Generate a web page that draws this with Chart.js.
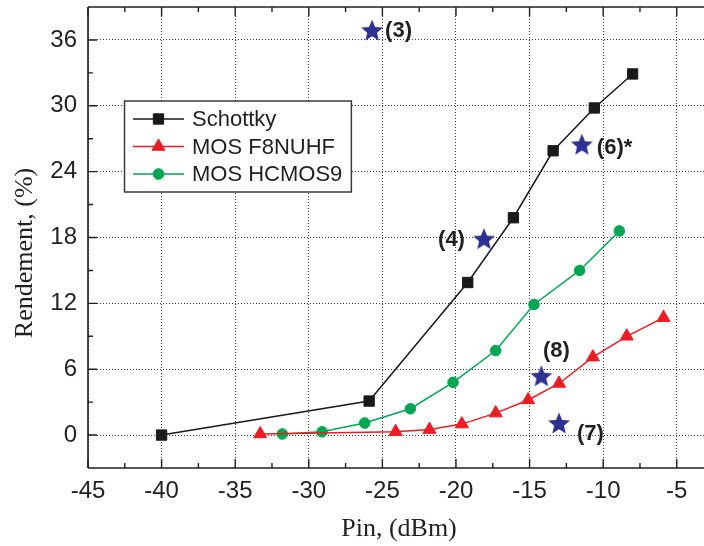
<!DOCTYPE html>
<html><head><meta charset="utf-8">
<script src="https://cdn.jsdelivr.net/npm/chart.js@4/dist/chart.umd.min.js"></script>
<style>html,body{margin:0;padding:0;background:#fff}#wrap{width:704px;height:546px;position:relative}</style>
</head><body><div id="wrap"><canvas id="c" width="704" height="546"></canvas></div>
<script>
// ---- data ----
const xTicks = [-45, -40, -35, -30, -25, -20, -15, -10, -5];
const xMinorTicks = [-42.5, -37.5, -32.5, -27.5, -22.5, -17.5, -12.5, -7.5];
const yTicks = [0, 6, 12, 18, 24, 30, 36];
const yMinorTicks = [3, 9, 15, 21, 27, 33];
const seriesNames = ['Schottky', 'MOS F8NUHF', 'MOS HCMOS9'];
const schottkyX = [-40, -25.9, -19.2, -16.1, -13.4, -10.6, -8.0];
const schottkyY = [0, 3.1, 13.9, 19.8, 25.9, 29.8, 32.9];
const f8nuhfX = [-33.3, -24.1, -21.8, -19.6, -17.3, -15.1, -13.0, -10.7, -8.4, -5.9];
const f8nuhfY = [0.1, 0.3, 0.5, 1.0, 2.0, 3.2, 4.7, 7.1, 9.0, 10.7];
const hcmos9X = [-31.8, -29.1, -26.2, -23.1, -20.2, -17.3, -14.7, -11.6, -8.9];
const hcmos9Y = [0.1, 0.3, 1.1, 2.4, 4.8, 7.7, 11.9, 15.0, 18.6];
const refX = [-25.7, -18.1, -11.45, -14.2, -13.0];
const refY = [36.9, 17.9, 26.5, 5.4, 1.1];
const refLabels = ['(3)', '(4)', '(6)*', '(8)', '(7)'];
const xTitle = 'Pin, (dBm)';
const yTitle = 'Rendement, (%)';

// ---- styling ----
const refLabelStyle = [
  {dx: 13, dy: 1, align: 'left'},
  {dx: -19, dy: 1, align: 'right'},
  {dx: 15, dy: 4, align: 'left'},
  {dx: 15, dy: -25, align: 'center'},
  {dx: 18, dy: 11, align: 'left'}
];
const INK = '#231f20';
const SANS = '"Liberation Sans", Arial, Helvetica, sans-serif';
const SERIF = '"Liberation Serif", "Times New Roman", serif';

function makeStar(size, color) {
  const c = document.createElement('canvas');
  c.width = c.height = size;
  const g = c.getContext('2d');
  const R = size / 2 - 0.5, r = R * 0.45;
  const cx = size / 2, cy = size / 2 + R * 0.095;
  g.beginPath();
  for (let i = 0; i < 10; i++) {
    const a = -Math.PI / 2 + i * Math.PI / 5;
    const rad = i % 2 ? r : R;
    g.lineTo(cx + rad * Math.cos(a), cy + rad * Math.sin(a));
  }
  g.closePath();
  g.fillStyle = color;
  g.fill();
  return c;
}
const starImg = makeStar(24, '#2e3192');
const pts = (xs, ys) => xs.map((x, i) => ({x: x, y: ys[i]}));
const noPad = () => ({left: 0, right: 0, top: 0, bottom: 0});

function drawFrame(chart) {
  const {ctx, chartArea: a, scales: {x, y}} = chart;
  ctx.save();
  ctx.strokeStyle = INK;
  ctx.lineWidth = 1.6;
  ctx.beginPath();
  ctx.moveTo(a.left, a.top); ctx.lineTo(a.right + 2, a.top);
  ctx.moveTo(a.left, a.top); ctx.lineTo(a.left, a.bottom);
  ctx.moveTo(a.left, a.bottom); ctx.lineTo(a.right + 2, a.bottom);
  ctx.stroke();
  ctx.lineWidth = 1.4;
  ctx.beginPath();
  const tick = (v, len, horiz) => {
    if (horiz) {
      const px = x.getPixelForValue(v);
      ctx.moveTo(px, a.bottom); ctx.lineTo(px, a.bottom - len);
      ctx.moveTo(px, a.top); ctx.lineTo(px, a.top + len);
    } else {
      const py = y.getPixelForValue(v);
      ctx.moveTo(a.left, py); ctx.lineTo(a.left + len, py);
    }
  };
  xTicks.forEach(v => tick(v, 9, true));
  xMinorTicks.forEach(v => tick(v, 5, true));
  yTicks.forEach(v => tick(v, 9, false));
  yMinorTicks.forEach(v => tick(v, 5, false));
  ctx.stroke();
  ctx.restore();
}

function drawOverlay(chart) {
  const {ctx, scales: {x, y}} = chart;
  ctx.save();
  ctx.font = 'bold 22px ' + SANS;
  ctx.fillStyle = INK;
  ctx.textBaseline = 'middle';
  refLabels.forEach((t, i) => {
    const s = refLabelStyle[i];
    ctx.textAlign = s.align;
    ctx.fillText(t, x.getPixelForValue(refX[i]) + s.dx, y.getPixelForValue(refY[i]) + s.dy);
  });
  // legend
  ctx.font = '22px ' + SANS;
  const bx = 124.5, by = 101, bh = 91, l1 = 133, l2 = 184, tx = 192, rows = [119, 146.5, 174];
  let tw = 0;
  seriesNames.forEach(n => { tw = Math.max(tw, ctx.measureText(n).width); });
  const bw = tx + tw + 9 - bx;
  ctx.fillStyle = '#fff';
  ctx.fillRect(bx, by, bw, bh);
  ctx.strokeStyle = '#3a3a3a';
  ctx.lineWidth = 1.5;
  ctx.strokeRect(bx, by, bw, bh);
  chart.data.datasets.slice(0, 3).forEach((ds, i) => {
    const yy = rows[i];
    ctx.strokeStyle = ds.borderColor;
    ctx.lineWidth = ds.borderWidth;
    ctx.beginPath(); ctx.moveTo(l1, yy); ctx.lineTo(l2, yy); ctx.stroke();
    ctx.fillStyle = ds.pointBackgroundColor;
    ctx.strokeStyle = ds.pointBorderColor;
    ctx.lineWidth = 1;
    Chart.helpers.drawPoint(ctx, {pointStyle: ds.pointStyle, radius: ds.pointRadius, borderWidth: 1, rotation: 0},
      (l1 + l2) / 2, yy);
    ctx.fillStyle = INK;
    ctx.textAlign = 'left';
    ctx.textBaseline = 'middle';
    ctx.fillText(seriesNames[i], tx, yy + 1);
  });
  ctx.restore();
}

function drawTitles(chart) {
  const {ctx} = chart;
  ctx.save();
  ctx.fillStyle = INK;
  ctx.font = '26px ' + SERIF;
  ctx.textAlign = 'center';
  ctx.textBaseline = 'middle';
  ctx.fillText(xTitle, 399, 529);
  ctx.translate(25, 253);
  ctx.rotate(-Math.PI / 2);
  ctx.fillText(yTitle, 0, 0);
  ctx.restore();
}

new Chart(document.getElementById('c'), {
  type: 'scatter',
  data: {
    datasets: [
      {label: seriesNames[0], data: pts(schottkyX, schottkyY), showLine: true,
       borderColor: '#1a1a1a', backgroundColor: '#1a1a1a', borderWidth: 1.5,
       pointStyle: 'rect', pointRadius: 7.3, pointBorderWidth: 1, pointBorderColor: '#1a1a1a', pointBackgroundColor: '#1a1a1a'},
      {label: seriesNames[1], data: pts(f8nuhfX, f8nuhfY), showLine: true,
       borderColor: '#ed1c24', backgroundColor: '#ed1c24', borderWidth: 1.5,
       pointStyle: 'triangle', pointRadius: 7.5, pointBorderWidth: 1, pointBorderColor: '#ed1c24', pointBackgroundColor: '#ed1c24'},
      {label: seriesNames[2], data: pts(hcmos9X, hcmos9Y), showLine: true,
       borderColor: '#00a651', backgroundColor: '#00a651', borderWidth: 1.5,
       pointStyle: 'circle', pointRadius: 5.3, pointBorderWidth: 1, pointBorderColor: '#00a651', pointBackgroundColor: '#00a651'},
      {label: 'refs', data: pts(refX, refY), showLine: false,
       pointStyle: starImg, pointRadius: 11}
    ]
  },
  options: {
    responsive: false, animation: false, devicePixelRatio: 1,
    events: [],
    layout: {autoPadding: false, padding: {top: 7, right: 0, bottom: 0, left: 0}},
    plugins: {legend: {display: false}, tooltip: {enabled: false}},
    scales: {
      x: {
        type: 'linear', min: -45, max: -3.15,
        afterBuildTicks: s => { s.ticks = xTicks.map(v => ({value: v})); },
        afterFit: s => { s.height = 78; s.paddingLeft = 0; s.paddingRight = 0; s.getPadding = noPad; },
        grid: {color: '#3a3a3a', lineWidth: 1, drawTicks: false},
        border: {display: false, dash: [1, 2]},
        ticks: {font: {family: SANS, size: 24}, color: INK, padding: 9, autoSkip: false, maxRotation: 0}
      },
      y: {
        type: 'linear', min: -3, max: 39,
        afterBuildTicks: s => { s.ticks = yTicks.map(v => ({value: v})); },
        afterFit: s => { s.width = 88; s.paddingTop = 0; s.paddingBottom = 0; s.getPadding = noPad; },
        grid: {color: '#3a3a3a', lineWidth: 1, drawTicks: false},
        border: {display: false, dash: [1, 2]},
        ticks: {font: {family: SANS, size: 24}, color: INK, padding: 11, autoSkip: false}
      }
    }
  },
  plugins: [{
    id: 'decor',
    beforeDatasetsDraw: drawFrame,
    afterDatasetsDraw: drawOverlay,
    afterDraw: drawTitles
  }]
});
</script>
</body></html>
